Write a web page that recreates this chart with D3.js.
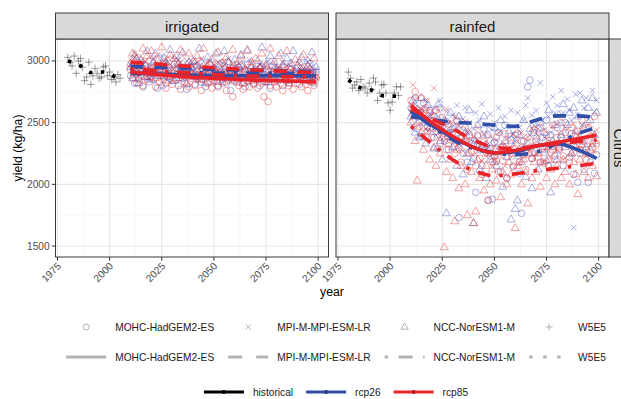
<!DOCTYPE html>
<html>
<head>
<meta charset="utf-8">
<script src="https://cdn.jsdelivr.net/npm/d3@7"></script>
<style>
  body { margin: 0; background: #fff; }
  svg { display: block; font-family: "Liberation Sans", Arial, Helvetica, sans-serif; }
</style>
</head>
<body>
<svg id="chart" width="621" height="399"></svg>
<script>
// ---------------------------------------------------------------
// Categories and tick labels
// ---------------------------------------------------------------
const systems = ["irrigated", "rainfed"];
const cropName = "Citrus";
const models = ["MOHC-HadGEM2-ES", "MPI-M-MPI-ESM-LR", "NCC-NorESM1-M", "W5E5"];
const scenarios = ["historical", "rcp26", "rcp85"];
const xTicks = [1975, 2000, 2025, 2050, 2075, 2100];
const xMinor = [1987.5, 2012.5, 2037.5, 2062.5, 2087.5];
const yTicks = [1500, 2000, 2500, 3000];
const yMinor = [1750, 2250, 2750];

// ---------------------------------------------------------------
// Observed (W5E5, historical) yields, one per year 1980-2005
// ---------------------------------------------------------------
const obsYears = d3.range(1980, 2006);
const obs_irrigated = [3030, 2990, 2960, 3040, 2900, 3000, 3020, 2950, 2840, 2870,
                       2990, 2810, 2880, 2940, 2900, 2860, 2870, 2950, 2960, 2880,
                       2910, 2850, 2870, 2830, 2890, 2860];
const obs_rainfed   = [2910, 2860, 2780, 2805, 2830, 2760, 2850, 2790, 2780, 2740,
                       2820, 2770, 2862, 2830, 2680, 2740, 2805, 2810, 2740, 2660,
                       2600, 2667, 2740, 2790, 2720, 2790];

// smoothed historical trend
const histSmoothYears = [1980, 1986, 1991, 1997, 2003, 2005];
const histSmooth_irrigated = [3000, 2960, 2906, 2911, 2871, 2862];
const histSmooth_rainfed   = [2846, 2781, 2764, 2717, 2715, 2716];

// ---------------------------------------------------------------
// Projected yields, one per year 2010-2099
// ---------------------------------------------------------------
const projYears = d3.range(2010, 2100);

const irrigated_MOHC_rcp26 = [
  2880, 2950, 2820, 2990, 2860, 2920, 2790, 2940, 2870, 2830,
  2960, 2850, 2910, 2780, 2930, 2880, 2990, 2820, 2900, 2860,
  2840, 2970, 2890, 2800, 2940, 2860, 2920, 2770, 2880, 2950,
  2900, 2810, 2960, 2870, 2830, 2930, 2790, 2890, 2980, 2850,
  2870, 2930, 2800, 2910, 2850, 2960, 2820, 2890, 2760, 2940,
  2880, 2830, 2950, 2860, 2910, 2790, 2970, 2840, 2900, 2820,
  2930, 2860, 2800, 2950, 2890, 2830, 2910, 2780, 2960, 2870,
  2840, 2920, 2870, 2800, 2950, 2880, 2820, 2930, 2860, 2900,
  2890, 2810, 2940, 2860, 2920, 2840, 2980, 2870, 2820, 2910];
const irrigated_MOHC_rcp85 = [
  2930, 2860, 2990, 2820, 2950, 2880, 2800, 2970, 2850, 2910,
  2870, 2940, 2790, 2900, 2830, 2960, 2850, 2780, 2920, 2880,
  2810, 2900, 2850, 2940, 2770, 2880, 2830, 2920, 2790, 2860,
  2890, 2800, 2860, 2930, 2760, 2850, 2900, 2820, 2880, 2780,
  2840, 2910, 2790, 2870, 2820, 2900, 2760, 2850, 2880, 2710,
  2830, 2890, 2800, 2860, 2770, 2920, 2840, 2790, 2870, 2810,
  2850, 2780, 2880, 2820, 2710, 2860, 2670, 2800, 2890, 2830,
  2790, 2870, 2820, 2760, 2880, 2840, 2800, 2900, 2770, 2850,
  2820, 2880, 2790, 2850, 2810, 2760, 2870, 2830, 2800, 2860];
const irrigated_MPI_rcp26 = [
  2970, 2900, 3030, 2940, 2880, 3000, 2920, 2990, 2860, 2960,
  2930, 3010, 2890, 2970, 2910, 3040, 2870, 2950, 2990, 2900,
  2960, 2880, 3020, 2930, 2990, 2860, 2950, 3000, 2900, 2940,
  2910, 2980, 2850, 2960, 3010, 2890, 2940, 2870, 3000, 2920,
  2950, 2880, 2990, 2910, 2850, 2970, 2930, 3020, 2890, 2940,
  2900, 2970, 2860, 2940, 2990, 2880, 2920, 3010, 2850, 2950,
  2930, 2870, 2980, 2900, 2950, 2840, 3000, 2910, 2880, 2960,
  2890, 2950, 2870, 2990, 2920, 2860, 2970, 2900, 2940, 2880,
  2920, 2980, 2870, 2940, 2900, 2990, 2860, 2950, 2910, 2930];
const irrigated_MPI_rcp85 = [
  3010, 2950, 3060, 2980, 2920, 3040, 2970, 3000, 2940, 3030,
  2960, 3020, 2930, 3050, 2980, 2910, 3000, 2950, 3030, 2970,
  2940, 3010, 2960, 2900, 2990, 3040, 2930, 2970, 2880, 3000,
  2950, 2890, 2990, 2930, 3020, 2960, 2900, 2980, 2940, 2870,
  2970, 2920, 2990, 2860, 2950, 3000, 2910, 2940, 2890, 2980,
  2920, 2960, 2880, 2990, 2930, 2870, 2950, 2910, 2980, 2900,
  2940, 2880, 2970, 2920, 2860, 2960, 2900, 2940, 2870, 2990,
  2910, 2950, 2870, 2930, 2890, 2960, 2850, 2920, 2940, 2880,
  2900, 2940, 2860, 2920, 2890, 2950, 2870, 2910, 2930, 2860];
const irrigated_NCC_rcp26 = [
  2950, 2860, 3050, 2900, 2820, 3000, 2940, 2870, 3080, 2910,
  2850, 2990, 3060, 2880, 2930, 2800, 3020, 2960, 2870, 3090,
  2920, 2840, 3040, 2980, 2860, 3070, 2900, 2810, 2990, 2950,
  3000, 2870, 2930, 3100, 2850, 2960, 2820, 3030, 2910, 2880,
  2940, 3060, 2830, 2970, 2900, 3080, 2860, 2990, 2920, 2840,
  3010, 2880, 2950, 3050, 2820, 2930, 3090, 2870, 2960, 2900,
  2850, 3000, 2940, 3110, 2880, 2970, 2830, 3040, 2910, 2990,
  2920, 2860, 3060, 2950, 2890, 3020, 2840, 2980, 3080, 2910,
  2960, 2880, 3030, 2900, 2850, 3000, 2940, 3070, 2870, 2950];
const irrigated_NCC_rcp85 = [
  2980, 3060, 2890, 3020, 2850, 2960, 3100, 2910, 3040, 2870,
  3080, 2930, 2860, 3000, 2950, 3110, 2880, 2990, 2840, 3050,
  2900, 3020, 2860, 2970, 3090, 2880, 2940, 2820, 3060, 2910,
  2870, 2990, 3040, 2850, 2930, 3100, 2890, 2960, 2830, 3010,
  2940, 2860, 3070, 2900, 2980, 2830, 3030, 2880, 2950, 3090,
  2850, 2970, 2900, 3040, 2820, 2930, 3080, 2870, 2990, 2840,
  3020, 2890, 2940, 3060, 2830, 2960, 2880, 3100, 2910, 2850,
  2930, 3040, 2860, 2970, 2900, 3080, 2820, 2950, 2890, 3010,
  2870, 2990, 2920, 3050, 2840, 2960, 2900, 2830, 3020, 2880];

const rainfed_MOHC_rcp26 = [
  2620, 2510, 2700, 2450, 2580, 2390, 2660, 2530, 2470, 2600,
  2380, 2550, 2430, 2290, 2620, 2470, 2350, 2510, 2280, 2440,
  2450, 2310, 2520, 1730, 2380, 2250, 2460, 2180, 2400, 2330,
  2210, 1935, 2390, 2280, 2150, 2450, 2320, 1870, 2230, 1880,
  2340, 2190, 2420, 2100, 2300, 2480, 2050, 2270, 2360, 2150,
  2400, 2230, 2090, 1765, 2350, 2280, 2790, 2845, 2210, 2420,
  2320, 2450, 2180, 2380, 2260, 2520, 2150, 2400, 2310, 2230,
  2460, 2280, 2380, 2150, 2500, 2340, 2220, 2410, 2080, 2300,
  2016, 2250, 2350, 2120, 2280, 2016, 2180, 2330, 2090, 2240];
const rainfed_MOHC_rcp85 = [
  2680, 2560, 2750, 2600, 2470, 2700, 2540, 2620, 2430, 2580,
  2510, 2380, 2600, 2450, 2330, 2540, 2410, 2280, 2490, 2360,
  2420, 2250, 2510, 2300, 2180, 2440, 2350, 2120, 2390, 2270,
  2320, 2150, 2400, 2210, 2080, 2350, 2260, 1870, 2290, 2180,
  2230, 2380, 2100, 2300, 2190, 2410, 2050, 2270, 2330, 2140,
  2290, 2410, 2180, 2350, 2240, 2120, 2380, 2300, 2210, 2440,
  2350, 2220, 2460, 2290, 2170, 2400, 2330, 2260, 2480, 2200,
  2380, 2290, 2500, 2230, 2420, 2340, 2180, 2460, 2310, 2400,
  2430, 2280, 2520, 2350, 2200, 2460, 2390, 2300, 2550, 2330];
const rainfed_MPI_rcp26 = [
  2580, 2450, 2650, 2520, 2390, 2610, 2500, 2680, 2430, 2560,
  2490, 2620, 2400, 2550, 2680, 2460, 2350, 2590, 2500, 2420,
  2560, 2380, 2640, 2470, 2310, 2530, 2620, 2420, 2500, 2360,
  2450, 2580, 2330, 2520, 2650, 2400, 2480, 2300, 2570, 2440,
  2500, 2360, 2620, 2430, 2290, 2550, 2470, 2380, 2600, 2410,
  2350, 2580, 2460, 2300, 2520, 2640, 2700, 2400, 2560, 2480,
  2600, 2450, 2823, 2520, 2380, 2660, 2550, 2420, 2710, 2580,
  2640, 2500, 2760, 2580, 2430, 2690, 2600, 2520, 1650, 2730,
  2560, 2740, 2480, 2620, 2700, 2530, 2450, 2760, 2590, 2680];
const rainfed_MPI_rcp85 = [
  2640, 2805, 2550, 2700, 2480, 2620, 2590, 2450, 2680, 2520,
  2560, 2780, 2470, 2600, 2390, 2520, 2450, 2610, 2380, 2500,
  2430, 2550, 2320, 2480, 2400, 2270, 2510, 2360, 2440, 2300,
  2380, 2250, 2460, 2320, 2190, 2410, 2350, 2240, 2390, 2280,
  2310, 2200, 2420, 2260, 2340, 2150, 2380, 2290, 2220, 2400,
  2280, 2350, 2170, 2420, 2300, 2230, 2380, 2260, 2450, 2320,
  2250, 2400, 2330, 2180, 2440, 2300, 2360, 2220, 2470, 2340,
  2280, 2420, 2350, 2200, 2460, 2310, 2380, 2250, 2490, 2360,
  2400, 2290, 2460, 2350, 2230, 2480, 2320, 2410, 2270, 2440];
const rainfed_NCC_rcp26 = [
  2550, 2680, 2420, 2610, 2380, 2700, 2500, 2330, 2640, 2460,
  2560, 2290, 2480, 2650, 2350, 2200, 2520, 1765, 2410, 2580,
  2300, 2460, 2150, 2550, 2380, 2080, 2420, 2250, 2600, 2180,
  1685, 2350, 2480, 2120, 2300, 2550, 2050, 2400, 2200, 2330,
  2460, 2150, 2280, 2520, 1980, 2350, 2220, 2430, 1715, 2300,
  1800, 1870, 2400, 2180, 2520, 2060, 2330, 2450, 1968, 2250,
  2380, 2120, 2500, 2280, 2420, 2190, 2600, 1935, 2350, 2480,
  2200, 2560, 2400, 2650, 2300, 2480, 2580, 2250, 2620, 2430,
  2550, 2380, 2680, 2460, 2300, 2620, 2520, 2700, 2400, 2580];
const rainfed_NCC_rcp85 = [
  2500, 2620, 2350, 2030, 2550, 2420, 2280, 2600, 2380, 2200,
  2450, 2300, 2150, 2480, 2250, 2380, 1490, 2100, 2330, 2200,
  2050, 1700, 2280, 1968, 2150, 2350, 2000, 1750, 2250, 2100,
  1685, 1780, 2200, 2050, 2300, 1950, 2150, 2250, 2000, 2120,
  2180, 2030, 2250, 1895, 2100, 2300, 2000, 2180, 2080, 2250,
  1645, 2150, 2280, 2000, 2200, 2100, 1845, 2250, 2050, 2180,
  2100, 2250, 1980, 2180, 2300, 2050, 2200, 2120, 2280, 2000,
  2150, 2300, 2050, 2200, 2100, 2350, 2000, 2250, 2180, 2080,
  1920, 2200, 2320, 2100, 2250, 2050, 2280, 2150, 2350, 2065];

// smoothed projection trends
const smoothYears = [2010, 2020, 2030, 2040, 2050, 2060, 2070, 2080, 2090, 2099];
const smooth_irrigated_MOHC_rcp26 = [2900, 2895, 2890, 2885, 2882, 2880, 2880, 2882, 2880, 2878];
const smooth_irrigated_MPI_rcp26  = [2955, 2950, 2945, 2938, 2932, 2928, 2925, 2922, 2918, 2915];
const smooth_irrigated_NCC_rcp26  = [2915, 2912, 2908, 2905, 2903, 2902, 2900, 2900, 2900, 2900];
const smooth_irrigated_MOHC_rcp85 = [2910, 2895, 2880, 2868, 2860, 2852, 2845, 2840, 2835, 2830];
const smooth_irrigated_MPI_rcp85  = [2990, 2978, 2965, 2955, 2945, 2935, 2927, 2920, 2912, 2905];
const smooth_irrigated_NCC_rcp85  = [2935, 2925, 2912, 2900, 2890, 2882, 2878, 2875, 2872, 2870];
const smooth_rainfed_MOHC_rcp26 = [2590, 2480, 2380, 2300, 2255, 2265, 2310, 2330, 2280, 2210];
const smooth_rainfed_MPI_rcp26  = [2550, 2525, 2505, 2495, 2480, 2470, 2520, 2555, 2555, 2540];
const smooth_rainfed_NCC_rcp26  = [2600, 2470, 2360, 2290, 2255, 2240, 2260, 2330, 2410, 2460];
const smooth_rainfed_MOHC_rcp85 = [2640, 2500, 2390, 2300, 2255, 2275, 2310, 2340, 2370, 2400];
const smooth_rainfed_MPI_rcp85  = [2610, 2530, 2450, 2360, 2300, 2290, 2310, 2330, 2345, 2360];
const smooth_rainfed_NCC_rcp85  = [2470, 2330, 2200, 2110, 2070, 2085, 2110, 2130, 2150, 2170];

// ---------------------------------------------------------------
// Series tables built from the arrays above
// ---------------------------------------------------------------
const pointData = {
  irrigated: [
    { model: 3, scenario: "historical", years: obsYears, values: obs_irrigated },
    { model: 0, scenario: "rcp26", years: projYears, values: irrigated_MOHC_rcp26 },
    { model: 1, scenario: "rcp26", years: projYears, values: irrigated_MPI_rcp26 },
    { model: 2, scenario: "rcp26", years: projYears, values: irrigated_NCC_rcp26 },
    { model: 0, scenario: "rcp85", years: projYears, values: irrigated_MOHC_rcp85 },
    { model: 1, scenario: "rcp85", years: projYears, values: irrigated_MPI_rcp85 },
    { model: 2, scenario: "rcp85", years: projYears, values: irrigated_NCC_rcp85 }
  ],
  rainfed: [
    { model: 3, scenario: "historical", years: obsYears, values: obs_rainfed },
    { model: 0, scenario: "rcp26", years: projYears, values: rainfed_MOHC_rcp26 },
    { model: 1, scenario: "rcp26", years: projYears, values: rainfed_MPI_rcp26 },
    { model: 2, scenario: "rcp26", years: projYears, values: rainfed_NCC_rcp26 },
    { model: 0, scenario: "rcp85", years: projYears, values: rainfed_MOHC_rcp85 },
    { model: 1, scenario: "rcp85", years: projYears, values: rainfed_MPI_rcp85 },
    { model: 2, scenario: "rcp85", years: projYears, values: rainfed_NCC_rcp85 }
  ]
};
const lineData = {
  irrigated: [
    { model: 3, scenario: "historical", years: histSmoothYears, values: histSmooth_irrigated },
    { model: 0, scenario: "rcp26", years: smoothYears, values: smooth_irrigated_MOHC_rcp26 },
    { model: 1, scenario: "rcp26", years: smoothYears, values: smooth_irrigated_MPI_rcp26 },
    { model: 2, scenario: "rcp26", years: smoothYears, values: smooth_irrigated_NCC_rcp26 },
    { model: 2, scenario: "rcp85", years: smoothYears, values: smooth_irrigated_NCC_rcp85 },
    { model: 0, scenario: "rcp85", years: smoothYears, values: smooth_irrigated_MOHC_rcp85 },
    { model: 1, scenario: "rcp85", years: smoothYears, values: smooth_irrigated_MPI_rcp85 }
  ],
  rainfed: [
    { model: 3, scenario: "historical", years: histSmoothYears, values: histSmooth_rainfed },
    { model: 0, scenario: "rcp26", years: smoothYears, values: smooth_rainfed_MOHC_rcp26 },
    { model: 1, scenario: "rcp26", years: smoothYears, values: smooth_rainfed_MPI_rcp26 },
    { model: 2, scenario: "rcp26", years: smoothYears, values: smooth_rainfed_NCC_rcp26 },
    { model: 2, scenario: "rcp85", years: smoothYears, values: smooth_rainfed_NCC_rcp85 },
    { model: 0, scenario: "rcp85", years: smoothYears, values: smooth_rainfed_MOHC_rcp85 },
    { model: 1, scenario: "rcp85", years: smoothYears, values: smooth_rainfed_MPI_rcp85 }
  ]
};

// ---------------------------------------------------------------
// Styling
// ---------------------------------------------------------------
const lineColor = { historical: "#000000", rcp26: "#2f4fa8", rcp85: "#e8232a" };
const pointColor = { historical: "#000000", rcp26: "#2f3fb8", rcp85: "#e41a1c" };
const pointAlpha = { historical: 0.42, rcp26: 0.45, rcp85: 0.45 };
const dashPanel = [null, "13,11", "3.5,9,13,9", "3.5,8.5"];
const dashKey = [null, "14,14", "3.5,10.5,14,10.5", "3.5,10.5"];

// open point shapes: circle, times, triangle, plus
const shapePath = [
  r => `M${r},0A${r},${r} 0 1,1 ${-r},0A${r},${r} 0 1,1 ${r},0Z`,
  r => { const d = r * 0.85; return `M${-d},${-d}L${d},${d}M${-d},${d}L${d},${-d}`; },
  r => { const h = r * 1.35, w = r * 1.2; return `M0,${-h}L${w},${h * 0.55}L${-w},${h * 0.55}Z`; },
  r => { const d = r * 1.15; return `M${-d},0H${d}M0,${-d}V${d}`; }
];

// ---------------------------------------------------------------
// Layout
// ---------------------------------------------------------------
const svg = d3.select("#chart");
const panelTop = 39, panelBottom = 257, stripTop = 13;
const panelsX = [[55.5, 328.5], [336, 609]];
const xDomain = [1974.05, 2104.95];
const y = d3.scaleLinear().domain([1411, 3178]).range([panelBottom, panelTop]);

const tickColor = "#4d4d4d";
const borderColor = "#3a3a3a";

systems.forEach((sys, si) => {
  const [x0, x1] = panelsX[si];
  const x = d3.scaleLinear().domain(xDomain).range([x0, x1]);
  const g = svg.append("g");

  // panel background + grid
  g.append("rect").attr("x", x0).attr("y", panelTop)
    .attr("width", x1 - x0).attr("height", panelBottom - panelTop).attr("fill", "#fff");
  g.selectAll(".xminor").data(xMinor).join("line")
    .attr("x1", d => x(d)).attr("x2", d => x(d)).attr("y1", panelTop).attr("y2", panelBottom)
    .attr("stroke", "#f2f2f2").attr("stroke-width", 0.6);
  g.selectAll(".yminor").data(yMinor).join("line")
    .attr("x1", x0).attr("x2", x1).attr("y1", d => y(d)).attr("y2", d => y(d))
    .attr("stroke", "#f2f2f2").attr("stroke-width", 0.6);
  g.selectAll(".xmajor").data(xTicks).join("line")
    .attr("x1", d => x(d)).attr("x2", d => x(d)).attr("y1", panelTop).attr("y2", panelBottom)
    .attr("stroke", "#e6e6e6").attr("stroke-width", 1.1);
  g.selectAll(".ymajor").data(yTicks).join("line")
    .attr("x1", x0).attr("x2", x1).attr("y1", d => y(d)).attr("y2", d => y(d))
    .attr("stroke", "#e6e6e6").attr("stroke-width", 1.1);

  // clipped data layer
  const clipId = "clip-" + sys;
  svg.append("clipPath").attr("id", clipId).append("rect")
    .attr("x", x0).attr("y", panelTop).attr("width", x1 - x0).attr("height", panelBottom - panelTop);
  const data = g.append("g").attr("clip-path", `url(#${clipId})`);

  // points
  pointData[sys].forEach(s => {
    const pts = s.values.map((v, i) => ({ year: s.years[i], value: v }));
    data.append("g").selectAll("path").data(pts).join("path")
      .attr("transform", d => `translate(${x(d.year)},${y(d.value)})`)
      .attr("d", shapePath[s.model](3.3))
      .attr("fill", "none")
      .attr("stroke", pointColor[s.scenario])
      .attr("stroke-opacity", pointAlpha[s.scenario])
      .attr("stroke-width", 0.9);
  });

  // smoothed trends
  const line = d3.line().x(d => x(d.year)).y(d => y(d.value)).curve(d3.curveMonotoneX);
  lineData[sys].forEach(s => {
    const pts = s.values.map((v, i) => ({ year: s.years[i], value: v }));
    data.append("path").datum(pts)
      .attr("d", line)
      .attr("fill", "none")
      .attr("stroke", lineColor[s.scenario])
      .attr("stroke-width", 3.6)
      .attr("stroke-dasharray", dashPanel[s.model])
      .attr("stroke-linecap", "butt");
  });

  // panel border
  g.append("rect").attr("x", x0).attr("y", panelTop)
    .attr("width", x1 - x0).attr("height", panelBottom - panelTop)
    .attr("fill", "none").attr("stroke", borderColor).attr("stroke-width", 1);

  // top strip
  g.append("rect").attr("x", x0).attr("y", stripTop)
    .attr("width", x1 - x0).attr("height", panelTop - stripTop)
    .attr("fill", "#d9d9d9").attr("stroke", borderColor).attr("stroke-width", 1);
  g.append("text").attr("x", (x0 + x1) / 2).attr("y", (stripTop + panelTop) / 2)
    .attr("text-anchor", "middle").attr("dominant-baseline", "central")
    .attr("font-size", 15).attr("fill", "#1a1a1a").text(sys);

  // x axis ticks and rotated labels
  g.selectAll(".xtick").data(xTicks).join("line")
    .attr("x1", d => x(d)).attr("x2", d => x(d))
    .attr("y1", panelBottom).attr("y2", panelBottom + 3.7)
    .attr("stroke", "#333").attr("stroke-width", 1);
  g.selectAll(".xlab").data(xTicks).join("text")
    .attr("transform", d => `translate(${x(d) - 1},${panelBottom + 4.5}) rotate(-45)`)
    .attr("text-anchor", "end").attr("dy", "0.72em")
    .attr("font-size", 10.2).attr("fill", tickColor).text(d => d);

  // y axis on the first panel only
  if (si === 0) {
    g.selectAll(".ytick").data(yTicks).join("line")
      .attr("x1", x0 - 3.7).attr("x2", x0)
      .attr("y1", d => y(d)).attr("y2", d => y(d))
      .attr("stroke", "#333").attr("stroke-width", 1);
    g.selectAll(".ylab").data(yTicks).join("text")
      .attr("x", x0 - 5.8).attr("y", d => y(d))
      .attr("text-anchor", "end").attr("dominant-baseline", "central")
      .attr("font-size", 10.2).attr("fill", tickColor).text(d => d);
  }
});

// right strip with the crop name
const rs = svg.append("g");
rs.append("rect").attr("x", 609).attr("y", panelTop)
  .attr("width", 26).attr("height", panelBottom - panelTop)
  .attr("fill", "#d9d9d9").attr("stroke", borderColor).attr("stroke-width", 1);
rs.append("text")
  .attr("transform", `translate(619,${(panelTop + panelBottom) / 2}) rotate(90)`)
  .attr("text-anchor", "middle").attr("dominant-baseline", "central")
  .attr("font-size", 15).attr("fill", "#1a1a1a").text(cropName);

// axis titles
svg.append("text")
  .attr("transform", `translate(18,${(panelTop + panelBottom) / 2}) rotate(-90)`)
  .attr("text-anchor", "middle").attr("dominant-baseline", "central")
  .attr("font-size", 12.3).attr("fill", "#000").text("yield (kg/ha)");
svg.append("text").attr("x", 332).attr("y", 296)
  .attr("text-anchor", "middle").attr("font-size", 12.3).attr("fill", "#000").text("year");

// ---------------------------------------------------------------
// Legends
// ---------------------------------------------------------------
const keyW = 40, keyGap = 9, legendCenter = 336, legendFont = 10.2;
function legendRow(yPos, labels, itemGap, drawKey) {
  const g = svg.append("g");
  let cx = 0;
  labels.forEach((lab, i) => {
    const item = g.append("g").attr("transform", `translate(${cx},${yPos})`);
    drawKey(item, i);
    const t = item.append("text").attr("x", keyW + keyGap).attr("y", 0)
      .attr("dominant-baseline", "central")
      .attr("font-size", legendFont).attr("fill", "#1a1a1a").text(lab);
    cx += keyW + keyGap + t.node().getComputedTextLength() + itemGap;
  });
  const total = cx - itemGap;
  g.attr("transform", `translate(${legendCenter - total / 2},0)`);
}

// shapes
legendRow(327, models, 14, (item, i) => {
  item.append("path").attr("transform", `translate(${keyW / 2},0)`)
    .attr("d", shapePath[i](3.0)).attr("fill", "none")
    .attr("stroke", "#aaaaaa").attr("stroke-width", 0.9);
});
// linetypes
legendRow(357, models, 14, (item, i) => {
  item.append("line").attr("x1", 0).attr("x2", keyW).attr("y1", 0).attr("y2", 0)
    .attr("stroke", "#b3b3b3").attr("stroke-width", 3)
    .attr("stroke-dasharray", dashKey[i]);
});
// scenario colours
legendRow(392, scenarios, 13, (item, i) => {
  const c = lineColor[scenarios[i]];
  item.append("line").attr("x1", 0).attr("x2", keyW).attr("y1", 0).attr("y2", 0)
    .attr("stroke", c).attr("stroke-width", 3);
  item.append("circle").attr("cx", keyW / 2).attr("cy", 0).attr("r", 2)
    .attr("fill", d3.color(c).darker(0.6));
});
</script>
</body>
</html>
